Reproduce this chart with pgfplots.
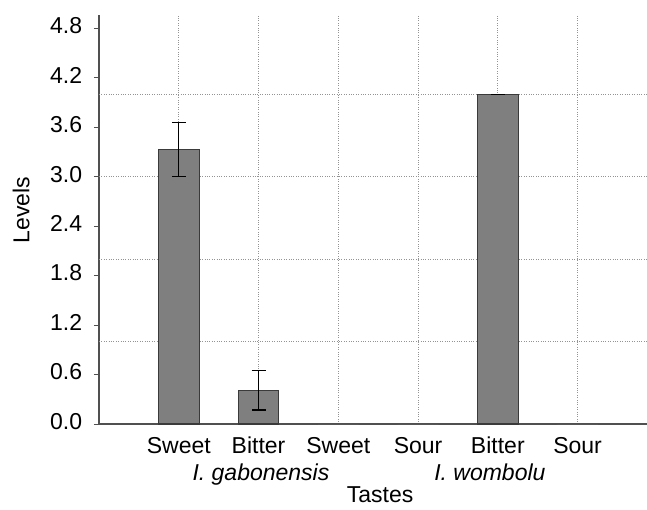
\documentclass[border=0pt]{standalone}
\usepackage{pgfplots}
\pgfplotsset{compat=1.18}
\usepackage{fontspec}
\setmainfont{Liberation Sans}
\definecolor{barfill}{HTML}{7F7F7F}
\definecolor{baredge}{HTML}{3A3A3A}
\definecolor{axisgray}{HTML}{505050}
\begin{document}
\fontsize{23}{27}\selectfont
\begin{tikzpicture}
\begin{axis}[
  scale only axis, width=548pt, height=409pt,
  xmin=-1, xmax=5.87, ymin=0, ymax=4.96,
  axis lines*=left,
  axis line style={draw=axisgray, line width=1.2pt},
  clip=false,
  ybar, bar width=40.7pt,
  xtick={0,1,2,3,4,5},
  xticklabels={Sweet,Bitter,Sweet,Sour,Bitter,Sour},
  xtick style={draw=none},
  typeset ticklabels with strut,
  xticklabel style={yshift=2pt},
  ytick={0,0.6,1.2,1.8,2.4,3.0,3.6,4.2,4.8},
  ytick style={draw=axisgray, line width=1pt},
  tick align=outside, major tick length=5pt,
  /pgf/number format/assume math mode=true,
  yticklabel style={xshift=-4pt, /pgf/number format/.cd, fixed, fixed zerofill, precision=1},
  xmajorgrids,
  extra y ticks={1,2,3,4},
  extra y tick labels={},
  extra y tick style={grid=major, major tick length=0pt},
  major grid style={dotted, draw=gray!85, line width=1.1pt},
  xlabel={Tastes}, ylabel={Levels},
  every axis x label/.style={at={(axis description cs:0.513,0)}, anchor=center, yshift=-71pt},
  every axis y label/.style={at={(axis description cs:-0.142,0.523)}, rotate=90, anchor=center},
]
\addplot[fill=barfill, draw=baredge, line width=1.2pt, bar shift=0pt,
  error bars/.cd, y dir=both, y explicit,
  error bar style={black, line width=1pt},
  error mark options={rotate=90, black, line width=1.2pt, mark size=7pt}]
  coordinates {(0,3.33) +- (0,0.33) (1,0.41) +- (0,0.24) (4,4.0) +- (0,0)};
\addplot[fill=barfill, draw=none, bar shift=0pt]
  coordinates {(2,0) (3,0) (5,0)};
\node[anchor=base] at (axis cs:1.03,0) [yshift=-56pt] {\itshape I. gabonensis};
\node[anchor=base] at (axis cs:3.9,0) [yshift=-56pt] {\itshape I. wombolu};
\end{axis}
\pgfresetboundingbox
\path (-99pt,-85pt) rectangle (548pt,424pt);
\end{tikzpicture}
\end{document}
